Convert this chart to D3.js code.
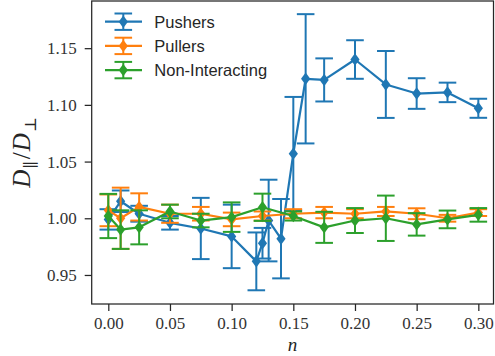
<!DOCTYPE html>
<html>
<head>
<meta charset="utf-8">
<title>D_par / D_perp vs n</title>
<script src="https://d3js.org/d3.v7.min.js"></script>
<style>
  body { margin: 0; background: #fff; }
  svg { display: block; }
</style>
</head>
<body>
<div id="svgcontainer"></div>
<script>
// data
var seriesNames = ["Pushers", "Pullers", "Non-Interacting"];
var seriesColors = ["#1f77b4", "#ff7f0e", "#2ca02c"];

var pushersN   = [0, 0.01, 0.025, 0.05, 0.075, 0.1, 0.12, 0.125, 0.13, 0.14, 0.15, 0.16, 0.175, 0.2, 0.225, 0.25, 0.275, 0.3];
var pushersVal = [0.999, 1.015, 1.004, 0.996, 0.991, 0.984, 0.962, 0.978, 0.998, 0.982, 1.057, 1.123, 1.122, 1.140, 1.118, 1.110, 1.111, 1.097];
var pushersErr = [0.009, 0.0095, 0.007, 0.006, 0.027, 0.028, 0.0255, 0.0135, 0.036, 0.035, 0.050, 0.057, 0.019, 0.017, 0.0295, 0.0135, 0.0086, 0.0084];

var otherN     = [0, 0.01, 0.025, 0.05, 0.075, 0.1, 0.125, 0.15, 0.175, 0.2, 0.225, 0.25, 0.275, 0.3];
var pullersVal = [1.007, 1.000, 1.010, 1.004, 1.004, 0.999, 1.002, 1.004, 1.005, 1.004, 1.006, 1.004, 1.000, 1.005];
var pullersErr = [0.014, 0.027, 0.012, 0.008, 0.006, 0.006, 0.004, 0.004, 0.005, 0.004, 0.004, 0.0048, 0.003, 0.003];
var nonIntVal  = [1.002, 0.990, 0.992, 1.006, 0.998, 1.001, 1.0097, 1.002, 0.992, 0.998, 1.000, 0.9946, 0.999, 1.003];
var nonIntErr  = [0.0195, 0.017, 0.015, 0.006, 0.006, 0.013, 0.012, 0.004, 0.0137, 0.011, 0.020, 0.0099, 0.0078, 0.006];

var xTicks = [0, 0.05, 0.1, 0.15, 0.2, 0.25, 0.3];
var yTicks = [0.95, 1.00, 1.05, 1.10, 1.15];

var width = 495, height = 356;
var plotLeft = 91.7, plotRight = 493.5, plotTop = 1, plotBottom = 304;
var capHalf = 8.8;
var axisColor = "#262626";
var tickFont = "Liberation Serif, DejaVu Serif, Times New Roman, serif";

var x = d3.scaleLinear().domain([-0.01346, 0.3123]).range([plotLeft, plotRight]);
var y = d3.scaleLinear().domain([0.9244, 1.1916]).range([plotBottom, plotTop]);

var svg = d3.select("#svgcontainer").append("svg")
    .attr("width", width)
    .attr("height", height);

function makeRows(ns, vals, errs) {
    return ns.map(function(n, i) { return { n: n, v: vals[i], e: errs[i] }; });
}

var series = [
    makeRows(pushersN, pushersVal, pushersErr),
    makeRows(otherN, pullersVal, pullersErr),
    makeRows(otherN, nonIntVal, nonIntErr)
];

function diamond(cx, cy) {
    var w = 4.6, h = 6.2;
    return "M" + cx + "," + (cy - h) + "L" + (cx + w) + "," + cy + "L" + cx + "," + (cy + h) + "L" + (cx - w) + "," + cy + "Z";
}

// axes
var yAxis = d3.axisLeft(y).tickValues(yTicks).tickSize(7).tickPadding(8)
    .tickFormat(d3.format(".2f"));
var xAxis = d3.axisBottom(x).tickValues(xTicks).tickSize(7).tickPadding(6)
    .tickFormat(d3.format(".2f"));

var gy = svg.append("g").attr("transform", "translate(" + plotLeft + ",0)").call(yAxis);
var gx = svg.append("g").attr("transform", "translate(0," + plotBottom + ")").call(xAxis);

[gx, gy].forEach(function(g) {
    g.attr("font-family", tickFont).attr("font-size", 17);
    g.select(".domain").remove();
    g.selectAll(".tick line").attr("stroke", axisColor).attr("stroke-width", 1.25);
    g.selectAll(".tick text")
        .attr("fill", "#333")
        .attr("font-family", tickFont)
        .style("font-family", tickFont)
        .style("font-size", "17px");
});

// series
series.forEach(function(rows, k) {
    var col = seriesColors[k];
    var g = svg.append("g");

    g.selectAll("line.bar").data(rows).enter().append("line")
        .attr("x1", function(d) { return x(d.n); })
        .attr("x2", function(d) { return x(d.n); })
        .attr("y1", function(d) { return y(d.v - d.e); })
        .attr("y2", function(d) { return y(d.v + d.e); })
        .attr("stroke", col).attr("stroke-width", 2);

    [-1, 1].forEach(function(s) {
        g.selectAll("line.cap" + s).data(rows).enter().append("line")
            .attr("x1", function(d) { return x(d.n) - capHalf; })
            .attr("x2", function(d) { return x(d.n) + capHalf; })
            .attr("y1", function(d) { return y(d.v + s * d.e); })
            .attr("y2", function(d) { return y(d.v + s * d.e); })
            .attr("stroke", col).attr("stroke-width", 2);
    });

    var line = d3.line()
        .x(function(d) { return x(d.n); })
        .y(function(d) { return y(d.v); });

    g.append("path")
        .attr("d", line(rows))
        .attr("fill", "none")
        .attr("stroke", col)
        .attr("stroke-width", 2.2)
        .attr("stroke-linejoin", "round");

    g.selectAll("path.mk").data(rows).enter().append("path")
        .attr("d", function(d) { return diamond(x(d.n), y(d.v)); })
        .attr("fill", col);
});

// frame
svg.append("rect")
    .attr("x", plotLeft).attr("y", plotTop)
    .attr("width", plotRight - plotLeft).attr("height", plotBottom - plotTop)
    .attr("fill", "none").attr("stroke", axisColor).attr("stroke-width", 1.25);

// legend
var legend = svg.append("g");
seriesNames.forEach(function(name, i) {
    var cy = 21.7 + i * 24.2;
    var col = seriesColors[i];
    legend.append("line").attr("x1", 105).attr("x2", 142).attr("y1", cy).attr("y2", cy)
        .attr("stroke", col).attr("stroke-width", 2.2);
    legend.append("line").attr("x1", 123.3).attr("x2", 123.3).attr("y1", cy - 8.2).attr("y2", cy + 8.2)
        .attr("stroke", col).attr("stroke-width", 2);
    [-8.2, 8.2].forEach(function(o) {
        legend.append("line").attr("x1", 123.3 - capHalf).attr("x2", 123.3 + capHalf)
            .attr("y1", cy + o).attr("y2", cy + o)
            .attr("stroke", col).attr("stroke-width", 2);
    });
    legend.append("path").attr("d", diamond(123.3, cy)).attr("fill", col);
    legend.append("text").attr("x", 154.3).attr("y", cy).attr("dy", "0.36em")
        .style("font-family", "Liberation Sans, Arial, sans-serif")
        .style("font-size", "16.5px")
        .attr("fill", "#262626")
        .text(name);
});

// axis labels
svg.append("text")
    .attr("x", (plotLeft + plotRight) / 2).attr("y", 351)
    .attr("text-anchor", "middle")
    .style("font-family", tickFont).style("font-style", "italic").style("font-size", "19px")
    .attr("fill", "#262626")
    .text("n");

var ylab = svg.append("text")
    .attr("transform", "translate(30," + ((plotTop + plotBottom) / 2) + ") rotate(-90)")
    .attr("text-anchor", "middle")
    .style("font-family", tickFont).style("font-size", "25px")
    .attr("fill", "#262626");
ylab.append("tspan").style("font-style", "italic").text("D");
ylab.append("tspan").attr("dy", 6).attr("dx", 1).style("font-size", "16px").text("\u2225");
ylab.append("tspan").attr("dy", -6).attr("dx", 2).text("/");
ylab.append("tspan").attr("dx", 1).style("font-style", "italic").text("D");
ylab.append("tspan").attr("dy", 6).attr("dx", 1).style("font-size", "16px").text("\u22A5");
</script>
</body>
</html>
